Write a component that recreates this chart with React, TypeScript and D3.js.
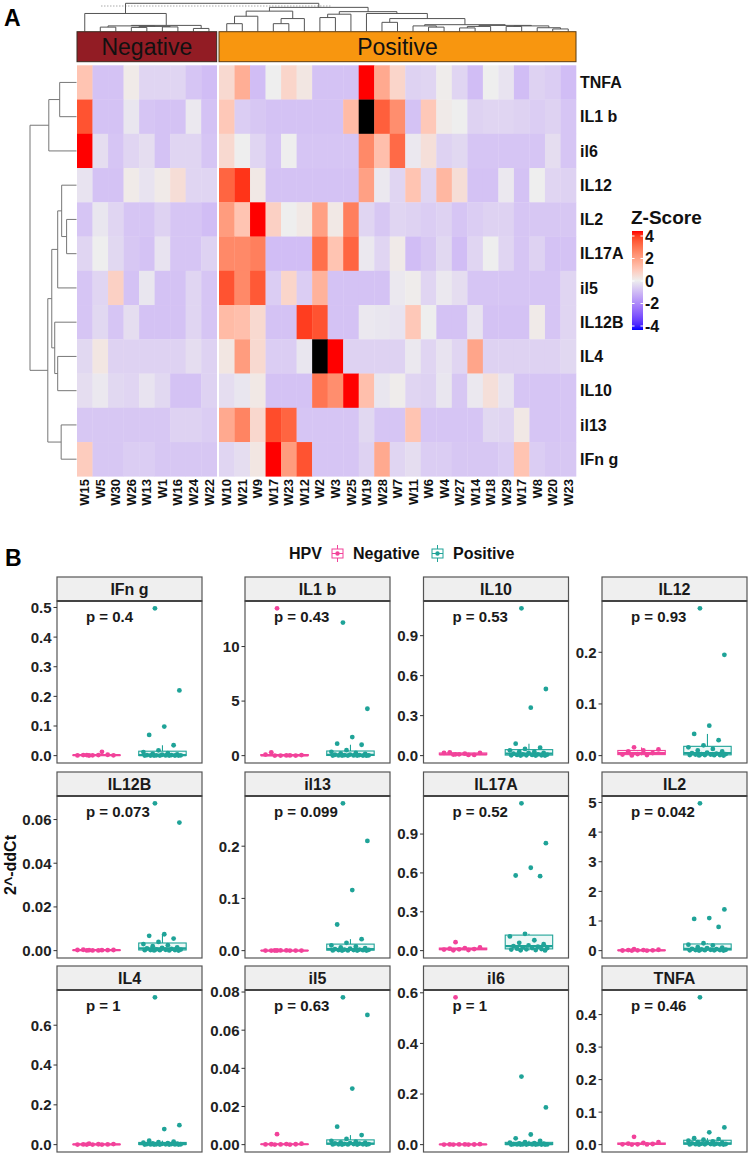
import React from "react";
import * as d3 from "d3";

const FONT = "'Liberation Sans', Arial, Helvetica, sans-serif";

// ---------------- Panel A : heatmap data ----------------
const rowGenes = ["TNFA", "IL1 b", "il6", "IL12", "IL2", "IL17A", "il5", "IL12B", "IL4", "IL10", "il13", "IFn g"];
const negSamples = ["W15", "W5", "W30", "W26", "W13", "W1", "W16", "W24", "W22"];
const posSamples = ["W10", "W21", "W9", "W17", "W23", "W12", "W2", "W3", "W25", "W19", "W28", "W7", "W11", "W6", "W4", "W27", "W14", "W18", "W29", "W17", "W8", "W20", "W23"];

// z-scores (values above 4 are drawn black)
const zNeg = [
  [1.0, -0.8, -0.8, 0.1, -0.45, -0.45, -0.45, -0.75, -0.9],
  [3.3, -0.8, -0.8, -0.15, -0.75, -0.8, -0.8, -0.1, -0.8],
  [4.0, -0.3, -0.75, -0.45, -0.3, -0.8, -0.45, -0.45, -0.75],
  [-0.2, -0.8, -0.8, 0.1, -0.2, 0.1, 0.4, -0.45, -0.45],
  [-0.75, -0.15, -0.45, -0.75, -0.75, -0.5, -0.75, -0.75, -0.9],
  [-0.45, 0.0, -0.4, -0.7, -0.8, -0.2, -0.75, -0.75, -0.5],
  [-0.75, -0.45, 0.7, -0.8, -0.15, -0.8, -0.8, -0.45, -0.75],
  [-0.75, -0.4, -0.75, -0.3, -0.8, -0.8, -0.8, -0.45, -0.75],
  [-0.4, 0.2, -0.5, -0.5, -0.5, -0.5, -0.5, -0.3, -0.5],
  [-0.3, -0.1, -0.4, -0.45, -0.2, -0.4, -0.8, -0.8, -0.5],
  [-0.7, -0.7, -0.7, -0.7, -0.7, -0.7, -0.5, -0.5, -0.6],
  [0.8, -0.7, -0.7, -0.6, -0.6, -0.7, -0.7, -0.7, -0.7],
];
const zPos = [
  [0.5, 1.5, -0.9, 0.0, 0.6, 0.2, -0.8, -0.8, -0.8, 4.0, 1.6, 0.6, -0.5, -0.45, 0.05, -0.45, -0.9, 0.0, -0.2, -0.9, -0.5, -0.6, -0.9],
  [0.9, -0.6, -0.7, -0.8, -0.8, -0.8, -0.8, -0.8, 1.2, 5.0, 3.1, 2.2, -0.8, 0.9, 0.1, 0.0, -0.5, -0.45, -0.45, -0.5, -0.6, -0.5, -0.75],
  [0.5, 0.0, -0.45, -0.75, 0.0, -0.75, -0.75, -0.75, -0.75, 2.3, 1.1, 2.9, -0.1, 0.35, -0.5, -0.4, -0.75, -0.75, -0.75, -0.75, -0.75, -0.3, -0.75],
  [3.0, 3.7, 0.15, -0.8, -0.8, -0.8, -0.8, -0.8, -0.8, 1.8, -0.1, -0.45, 1.0, -0.45, 1.3, 0.4, -0.8, -0.8, -0.1, -0.8, 0.0, -0.45, -0.5],
  [1.9, 1.0, 4.0, 0.7, 0.0, 0.15, 1.8, 0.15, 2.5, -0.45, -0.7, -0.45, -0.5, -0.6, -0.5, -0.75, -0.6, -0.5, -0.5, -0.75, -0.7, -0.7, -0.7],
  [2.3, 2.3, 2.5, -0.9, -0.9, -0.9, 2.8, 1.0, 3.0, -0.1, -0.45, 0.1, -0.9, -0.7, -0.4, -0.9, -0.45, 0.0, -0.45, -0.75, -0.5, -0.8, -0.8],
  [3.3, 2.3, 3.2, -0.6, 0.6, -0.6, 1.4, -0.8, -0.8, -0.8, -0.8, -0.1, 0.05, -0.45, -0.1, -0.3, -0.75, -0.75, -0.75, -0.75, -0.75, -0.75, -0.45],
  [1.2, 1.1, 0.5, -0.8, -0.8, 3.6, 3.3, -0.8, -0.8, -0.1, -0.15, -0.2, 0.9, 0.0, -0.8, -0.8, -0.2, -0.8, -0.8, -0.8, 0.1, -0.75, -0.45],
  [0.2, 1.9, 0.5, -0.6, -0.6, -0.15, 5.0, 4.0, -0.5, -0.5, -0.5, -0.5, -0.1, -0.45, -0.2, -0.45, 1.7, -0.5, -0.5, -0.5, -0.5, -0.5, -0.4],
  [-0.3, -0.15, 0.15, -0.8, -0.8, -0.8, 2.7, 2.2, 4.0, 1.1, -0.15, 0.05, -0.45, -0.5, -0.15, -0.7, -0.1, 0.35, -0.2, -0.75, -0.75, -0.75, -0.75],
  [1.6, 2.4, 0.55, 3.4, 3.0, -0.75, -0.75, -0.75, -0.75, -0.4, -0.75, -0.75, 1.0, -0.75, -0.75, -0.75, -0.75, -0.4, -0.45, 0.15, -0.75, -0.75, -0.75],
  [-0.45, -0.3, 0.2, 4.0, 1.9, 3.3, -0.75, -0.75, -0.75, -0.5, 1.6, -0.45, -0.3, -0.6, -0.6, -0.7, -0.7, -0.7, -0.6, 1.0, -0.6, -0.7, -0.7],
];

// dendrograms: [height, child, child]; leaves are column / row indices
type Tree = number | [number, Tree, Tree];
const colTree: Tree = [27.7,
  [17.7, 0, [6, [5.5, [4.3, 1, 2], [5, [4, 3, 4], [4.5, 5, 6]]], [3, 7, 8]]],
  [23.7,
    [20, [15, [7.7, 9, 10], 11], [12.7, [7.7, 12, 13], 14]],
    [19.5, [17, [13.7, 15, 16], 17],
      [17.7, 18, [12.7, [9, 19, 20],
        [6.7, [5.5, 21, [4.3, 22, 23]],
          [6, [5, [3.5, 24, 25], 26], [5.5, [5, 27, 28], [3.7, 29, [2.5, 30, 31]]]]]]]]]];
const rowTree: Tree = [47,
  [28, [17, 0, 1], 2],
  [29, [25, [19, [15, 3, [10, 4, 5]], 6], [22, 7, [19, 8, 9]]], [15.5, 10, 11]]];

const legendTicks = [4, 2, 0, -2, -4];

// ---------------- Panel B : boxplot data ----------------
const panelGenes = ["IFn g", "IL1 b", "IL10", "IL12", "IL12B", "il13", "IL17A", "IL2", "IL4", "il5", "il6", "TNFA"];
const pValues = ["0.4", "0.43", "0.53", "0.93", "0.073", "0.099", "0.52", "0.042", "1", "0.63", "1", "0.46"];
const yTickLabels = [
  ["0.0", "0.1", "0.2", "0.3", "0.4", "0.5"],
  ["0", "5", "10"],
  ["0.0", "0.3", "0.6", "0.9"],
  ["0.0", "0.1", "0.2"],
  ["0.00", "0.02", "0.04", "0.06"],
  ["0.0", "0.1", "0.2"],
  ["0.0", "0.3", "0.6", "0.9"],
  ["0", "1", "2", "3", "4", "5"],
  ["0.0", "0.2", "0.4", "0.6"],
  ["0.00", "0.02", "0.04", "0.06", "0.08"],
  ["0.0", "0.2", "0.4", "0.6"],
  ["0.0", "0.1", "0.2", "0.3", "0.4"],
];
const negValues = [
  [0.0005, 0.001, 0.002, 0.002, 0.003, 0.001, 0.0008, 0.013, 0.002],
  [13.5, 0.05, 0.02, 0.3, 0.01, 0.005, 0.1, 0.02, 0.01],
  [0.01, 0.02, 0.015, 0.025, 0.005, 0.01, 0.02, 0.005, 0.008],
  [0.016, 0.012, 0.01, 0.008, 0.005, 0.003, 0.002, 0.001, 0.0005],
  [0.0002, 0.0003, 0.0001, 0.0004, 0.0002, 0.0001, 0.0003, 0.0002, 0.0001],
  [0.0003, 0.0002, 0.0005, 0.0001, 0.0002, 0.0004, 0.0001, 0.0002, 0.0003],
  [0.065, 0.025, 0.02, 0.015, 0.012, 0.01, 0.008, 0.005, 0.003],
  [0.05, 0.03, 0.02, 0.02, 0.01, 0.01, 0.005, 0.003, 0.001],
  [0.005, 0.003, 0.002, 0.001, 0.001, 0.0005, 0.0003, 0.0002, 0.0001],
  [0.0055, 0.0005, 0.0003, 0.0002, 0.0002, 0.0001, 0.0001, 0.00005, 0.00003],
  [0.582, 0.002, 0.001, 0.001, 0.0005, 0.0008, 0.0003, 0.0002, 0.0001],
  [0.024, 0.008, 0.005, 0.003, 0.002, 0.001, 0.001, 0.0005, 0.0002],
];
const posValues = [
  [0.497, 0.22, 0.098, 0.07, 0.035, 0.018, 0.012, 0.008, 0.006, 0.004, 0.003, 0.002, 0.002, 0.001, 0.001, 0.0008, 0.0005, 0.0005, 0.0003, 0.0002, 0.0001, 0.0001, 0.0001],
  [12.2, 4.3, 1.7, 1.1, 1.0, 0.5, 0.35, 0.25, 0.2, 0.15, 0.1, 0.08, 0.05, 0.04, 0.03, 0.02, 0.02, 0.01, 0.01, 0.005, 0.005, 0.002, 0.001],
  [1.105, 0.5, 0.36, 0.09, 0.06, 0.05, 0.04, 0.03, 0.03, 0.02, 0.02, 0.015, 0.01, 0.01, 0.008, 0.005, 0.005, 0.003, 0.002, 0.002, 0.001, 0.001, 0.0005],
  [0.285, 0.195, 0.058, 0.042, 0.03, 0.02, 0.016, 0.013, 0.01, 0.008, 0.006, 0.005, 0.004, 0.003, 0.003, 0.002, 0.002, 0.001, 0.001, 0.001, 0.0008, 0.0005, 0.0003],
  [0.0674, 0.0586, 0.0075, 0.0068, 0.0055, 0.004, 0.003, 0.0025, 0.002, 0.0015, 0.0012, 0.001, 0.0008, 0.0006, 0.0005, 0.0004, 0.0003, 0.0003, 0.0002, 0.0002, 0.0001, 0.0001, 0.00005],
  [0.282, 0.21, 0.116, 0.05, 0.022, 0.015, 0.01, 0.008, 0.006, 0.005, 0.004, 0.003, 0.002, 0.002, 0.0015, 0.001, 0.001, 0.0008, 0.0005, 0.0005, 0.0003, 0.0002, 0.0001],
  [1.137, 0.83, 0.64, 0.58, 0.575, 0.13, 0.11, 0.08, 0.06, 0.05, 0.04, 0.035, 0.03, 0.025, 0.02, 0.02, 0.015, 0.012, 0.01, 0.008, 0.005, 0.003, 0.002],
  [4.97, 1.39, 1.1, 1.07, 0.8, 0.25, 0.2, 0.18, 0.12, 0.1, 0.08, 0.06, 0.05, 0.04, 0.03, 0.03, 0.02, 0.02, 0.015, 0.01, 0.01, 0.005, 0.003],
  [0.74, 0.098, 0.078, 0.02, 0.015, 0.012, 0.01, 0.008, 0.006, 0.005, 0.004, 0.003, 0.003, 0.002, 0.002, 0.0015, 0.001, 0.001, 0.0008, 0.0005, 0.0003, 0.0002, 0.0001],
  [0.0772, 0.068, 0.0294, 0.0094, 0.005, 0.003, 0.002, 0.0015, 0.0012, 0.001, 0.0008, 0.0006, 0.0005, 0.0004, 0.0003, 0.0003, 0.0002, 0.0002, 0.0001, 0.0001, 0.00005, 0.00003, 0.00001],
  [0.269, 0.147, 0.04, 0.025, 0.015, 0.01, 0.008, 0.006, 0.005, 0.004, 0.003, 0.002, 0.002, 0.0015, 0.001, 0.001, 0.0008, 0.0005, 0.0003, 0.0002, 0.0002, 0.0001, 0.0001],
  [0.453, 0.053, 0.038, 0.02, 0.017, 0.015, 0.012, 0.01, 0.008, 0.006, 0.005, 0.004, 0.003, 0.003, 0.002, 0.002, 0.0015, 0.001, 0.001, 0.0008, 0.0005, 0.0003, 0.0002],
];
const groupNames = ["Negative", "Positive"];
const groupColors = ["#F2429A", "#1FA398"];

// ---------------- helpers ----------------
function buildDendro(node: Tree, leafPos: (i: number) => number, segs: number[][]): { p: number; h: number } {
  if (typeof node === "number") return { p: leafPos(node), h: 0 };
  const [h, a, b] = node;
  const ca = buildDendro(a, leafPos, segs);
  const cb = buildDendro(b, leafPos, segs);
  segs.push([ca.p, ca.h, ca.p, h]);
  segs.push([cb.p, cb.h, cb.p, h]);
  segs.push([ca.p, h, cb.p, h]);
  return { p: (ca.p + cb.p) / 2, h };
}

const zColor = d3.scaleLinear<string>().domain([-4, 0, 4]).range(["#0000FF", "#EEEEEE", "#FF0000"]).interpolate(d3.interpolateLab).clamp(true);
const cellColor = (v: number) => (v > 4.2 ? "#000000" : zColor(v));

function BoxPanel({ k }: { k: number }) {
  const col = k % 4;
  const row = Math.floor(k / 4);
  const x0 = [57, 245, 423.5, 602][col];
  const w = 145;
  const sy = [577, 772, 966][row];
  const stripH = 24;
  const top = sy + stripH;
  const plotH = 162;
  const bottom = top + plotH;
  const groups = [negValues[k], posValues[k]];
  const maxV = d3.max(groups.flat()) as number;
  const y = d3.scaleLinear().domain([-0.05 * maxV, 1.05 * maxV]).range([bottom, top]);
  const gx = d3.scalePoint<string>().domain(groupNames).range([x0, x0 + w]).padding(0.6);
  const step = gx.step();
  const boxW = step * 0.72;
  return (
    <g>
      <rect x={x0} y={top} width={w} height={plotH} fill="#fff" stroke="#555" strokeWidth={1.2} />
      <rect x={x0} y={sy} width={w} height={stripH} fill="#EFEFEF" stroke="#555" strokeWidth={1.2} />
      <line x1={x0} x2={x0 + w} y1={top} y2={top} stroke="#444" strokeWidth={2} />
      <text x={x0 + w / 2} y={sy + 18} textAnchor="middle" fontSize={16} fontWeight="bold" fill="#1a1a1a">{panelGenes[k]}</text>
      {yTickLabels[k].map((t) => (
        <g key={t}>
          <line x1={x0 - 3.5} x2={x0} y1={y(+t)} y2={y(+t)} stroke="#333" strokeWidth={1} />
          <text x={x0 - 5.5} y={y(+t)} dy="0.36em" textAnchor="end" fontSize={15} fontWeight="bold" fill="#222">{t}</text>
        </g>
      ))}
      {groups.map((vals, gi) => {
        const cx = gx(groupNames[gi]) as number;
        const c = groupColors[gi];
        const q1 = d3.quantile(vals, 0.25) as number;
        const q2 = d3.quantile(vals, 0.5) as number;
        const q3 = d3.quantile(vals, 0.75) as number;
        const iqr = q3 - q1;
        const hi = d3.max(vals.filter((v) => v <= q3 + 1.5 * iqr)) as number;
        const lo = d3.min(vals.filter((v) => v >= q1 - 1.5 * iqr)) as number;
        return (
          <g key={gi}>
            <line x1={cx} x2={cx} y1={y(q3)} y2={y(hi)} stroke={c} strokeWidth={1.1} />
            <line x1={cx} x2={cx} y1={y(q1)} y2={y(lo)} stroke={c} strokeWidth={1.1} />
            <rect x={cx - boxW / 2} y={y(q3)} width={boxW} height={Math.max(0.01, y(q1) - y(q3))} fill={c} fillOpacity={0.08} stroke={c} strokeWidth={1.1} />
            <line x1={cx - boxW / 2} x2={cx + boxW / 2} y1={y(q2)} y2={y(q2)} stroke={c} strokeWidth={2.2} />
            {vals.map((v, i) => {
              const off = (((i * 0.6180339887 + 0.31) % 1) - 0.5) * 2 * step * 0.3;
              return <circle key={i} cx={cx + off} cy={y(v)} r={2.4} fill={c} />;
            })}
          </g>
        );
      })}
      <text x={x0 + 29} y={top + 21} fontSize={15} fontWeight="bold" fill="#1a1a1a">{`p = ${pValues[k]}`}</text>
    </g>
  );
}

function LegendKey({ x, color }: { x: number; color: string }) {
  return (
    <g>
      <line x1={x + 5.5} x2={x + 5.5} y1={545} y2={549} stroke={color} strokeWidth={1} />
      <line x1={x + 5.5} x2={x + 5.5} y1={558} y2={562} stroke={color} strokeWidth={1} />
      <rect x={x} y={549} width={11} height={9} fill="#fff" stroke={color} strokeWidth={1} />
      <line x1={x} x2={x + 11} y1={553.5} y2={553.5} stroke={color} strokeWidth={1} />
      <circle cx={x + 5.5} cy={553.5} r={2.2} fill={color} />
    </g>
  );
}

export default function App() {
  // heatmap geometry via band scales
  const negX = d3.scaleBand<number>().domain(d3.range(negSamples.length)).range([77, 216.7]);
  const posX = d3.scaleBand<number>().domain(d3.range(posSamples.length)).range([219, 576]);
  const rowY = d3.scaleBand<string>().domain(rowGenes).range([65.3, 476.3]);
  const colCenter = (i: number) =>
    i < negSamples.length ? (negX(i) as number) + negX.bandwidth() / 2 : (posX(i - negSamples.length) as number) + posX.bandwidth() / 2;
  const rowCenter = (i: number) => (rowY(rowGenes[i]) as number) + rowY.bandwidth() / 2;

  const colSegs: number[][] = [];
  buildDendro(colTree, colCenter, colSegs);
  const dTop = d3.scaleLinear().domain([0, 27.7]).range([31.5, 3.3]);
  const rowSegs: number[][] = [];
  buildDendro(rowTree, rowCenter, rowSegs);
  const dLeft = d3.scaleLinear().domain([0, 47]).range([76.5, 30]);

  const legY = d3.scaleLinear().domain([4, -4]).range([236, 326]);
  const gradStops = d3.range(0, 1.0001, 0.05);

  const allSamples = [...negSamples, ...posSamples];

  return (
    <svg width={750} height={1154} style={{ position: "absolute", left: 0, top: 0, background: "#fff" }} fontFamily={FONT}>
      <defs>
        <linearGradient id="zgrad" x1="0" y1="0" x2="0" y2="1">
          {gradStops.map((t) => (
            <stop key={t} offset={t} stopColor={zColor(4 - 8 * t)} />
          ))}
        </linearGradient>
      </defs>
      <rect x={0} y={0} width={750} height={1154} fill="#fff" />
      <text x={4} y={26} fontSize={23} fontWeight="bold">A</text>

      {/* top dendrogram */}
      <line x1={101} x2={331} y1={6} y2={6} stroke="#aaa" strokeWidth={1} strokeDasharray="1.5,1.5" />
      {colSegs.map((s, i) => (
        <line key={i} x1={s[0]} x2={s[2]} y1={dTop(s[1])} y2={dTop(s[3])} stroke="#555" strokeWidth={1} />
      ))}

      {/* annotation bar */}
      <rect x={77} y={31.7} width={139.7} height={30} fill="#921C24" stroke="#3a2a20" strokeWidth={1} />
      <rect x={219} y={31.7} width={357} height={30} fill="#F8960F" stroke="#5a3a10" strokeWidth={1} />
      <text x={146.85} y={55} textAnchor="middle" fontSize={23} fill="#111">Negative</text>
      <text x={397.5} y={55} textAnchor="middle" fontSize={23} fill="#111">Positive</text>

      {/* heatmap cells */}
      {rowGenes.map((g, r) => (
        <g key={g}>
          {zNeg[r].map((v, c) => (
            <rect key={"n" + c} x={negX(c)} y={rowY(g)} width={negX.bandwidth() + 0.3} height={rowY.bandwidth() + 0.3} fill={cellColor(v)} />
          ))}
          {zPos[r].map((v, c) => (
            <rect key={"p" + c} x={posX(c)} y={rowY(g)} width={posX.bandwidth() + 0.3} height={rowY.bandwidth() + 0.3} fill={cellColor(v)} />
          ))}
          <text x={580} y={rowCenter(r)} dy="0.36em" fontSize={16} fontWeight="bold" fill="#111">{g}</text>
        </g>
      ))}

      {/* row dendrogram */}
      {rowSegs.map((s, i) => (
        <line key={i} y1={s[0]} y2={s[2]} x1={dLeft(s[1])} x2={dLeft(s[3])} stroke="#777" strokeWidth={1} />
      ))}

      {/* column labels */}
      {allSamples.map((s, i) => (
        <text key={i} transform={`translate(${colCenter(i) + 4.6},${479}) rotate(-90)`} textAnchor="end" fontSize={13} fontWeight="bold" fill="#111">{s}</text>
      ))}

      {/* colour legend */}
      <text x={631} y={224} fontSize={19} fontWeight="bold" fill="#111">Z-Score</text>
      <rect x={632} y={231} width={11} height={99} fill="url(#zgrad)" />
      {legendTicks.map((t) => (
        <g key={t}>
          <line x1={632} x2={634.5} y1={legY(t)} y2={legY(t)} stroke="#fff" strokeWidth={1} />
          <line x1={640.5} x2={643} y1={legY(t)} y2={legY(t)} stroke="#fff" strokeWidth={1} />
          <text x={645} y={legY(t)} dy="0.36em" fontSize={16} fontWeight="bold" fill="#111">{t}</text>
        </g>
      ))}

      {/* ---------------- Panel B ---------------- */}
      <text x={5} y={566} fontSize={23} fontWeight="bold">B</text>
      <text x={289} y={559} fontSize={16} fontWeight="bold" fill="#111">HPV</text>
      <LegendKey x={332} color={groupColors[0]} />
      <text x={353} y={559} fontSize={16} fontWeight="bold" fill="#111">Negative</text>
      <LegendKey x={432} color={groupColors[1]} />
      <text x={453} y={559} fontSize={16} fontWeight="bold" fill="#111">Positive</text>
      <text transform="translate(16,865) rotate(-90)" textAnchor="middle" fontSize={16} fontWeight="bold" fill="#111">2^-ddCt</text>
      {panelGenes.map((g, k) => (
        <BoxPanel key={g} k={k} />
      ))}
    </svg>
  );
}
